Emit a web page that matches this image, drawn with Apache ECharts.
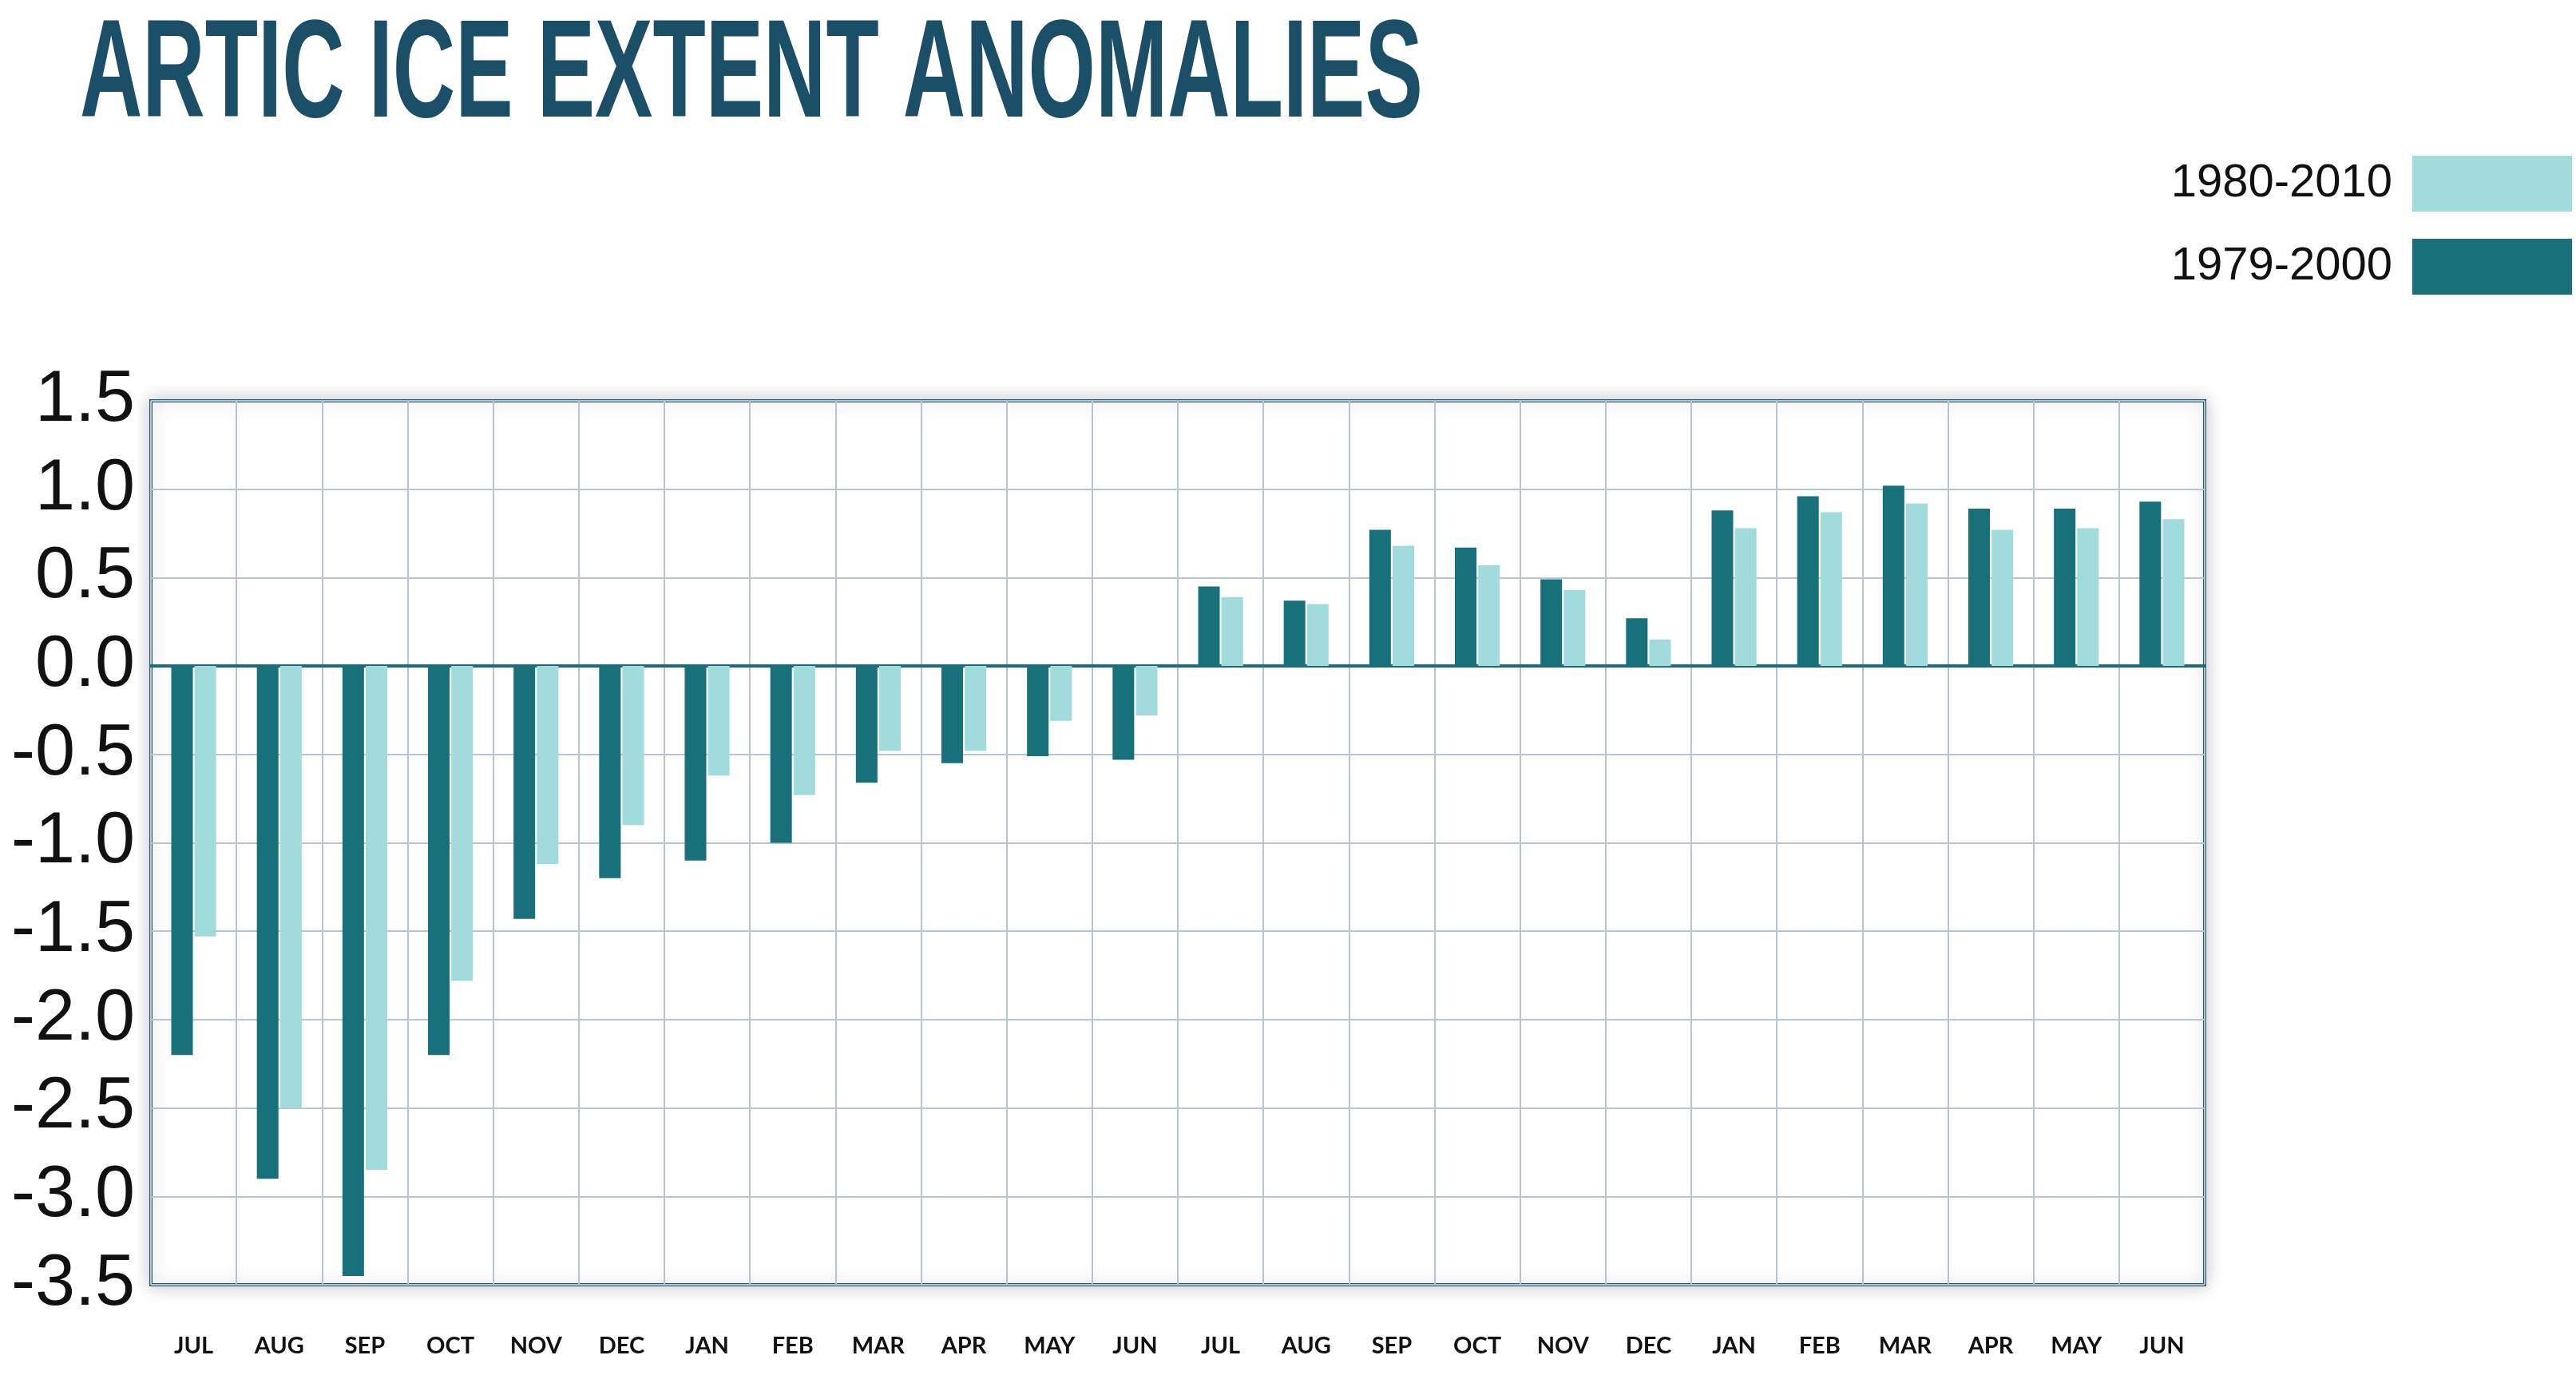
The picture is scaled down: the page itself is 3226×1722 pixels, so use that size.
<!DOCTYPE html>
<html><head><meta charset="utf-8">
<script src="https://cdn.jsdelivr.net/npm/echarts@6/dist/echarts.min.js"></script>
<style>html,body{margin:0;background:#fff}#c{width:3226px;height:1722px}</style>
</head><body><div id="c"></div>
<script>
const months = ['JUL','AUG','SEP','OCT','NOV','DEC','JAN','FEB','MAR','APR','MAY','JUN','JUL','AUG','SEP','OCT','NOV','DEC','JAN','FEB','MAR','APR','MAY','JUN'];
const base7900 = [-2.2,-2.9,-3.45,-2.2,-1.43,-1.2,-1.1,-1.0,-0.66,-0.55,-0.51,-0.53,0.45,0.37,0.77,0.67,0.49,0.27,0.88,0.96,1.02,0.89,0.89,0.93];
const base8010 = [-1.53,-2.5,-2.85,-1.78,-1.12,-0.9,-0.62,-0.73,-0.48,-0.48,-0.31,-0.28,0.39,0.35,0.68,0.57,0.43,0.15,0.78,0.87,0.92,0.77,0.78,0.83];

const chart = echarts.init(document.getElementById('c'));
const font = '"Liberation Sans", sans-serif';
chart.setOption({
  graphic: [{ type: 'text', left: 100, top: 10, scaleX: 0.62,
    style: { text: 'ARTIC ICE EXTENT ANOMALIES', font: 'bold 175px "Liberation Sans"', fill: '#1b4f68' } }],
  legend: { data: ['1980-2010','1979-2000'], orient: 'vertical', right: 0, top: 190,
    align: 'right', itemWidth: 200, itemHeight: 70, itemGap: 34, icon: 'rect',
    textStyle: { fontFamily: font, fontSize: 58, color: '#111', padding: [0, 20, 0, 0] } },
  grid: { left: 189, right: 465, top: 502, bottom: 113, show: true, borderColor: '#1d5a6e', borderWidth: 4,
    backgroundColor: '#fff', shadowColor: 'rgba(40,40,80,0.25)', shadowBlur: 20 },
  xAxis: { type: 'category', data: months,
    axisLine: { onZero: true, lineStyle: { color: '#1c6b78', width: 4 } },
    axisTick: { show: false },
    splitLine: { show: true, interval: 0, lineStyle: { color: '#b8c4cf', width: 2 } },
    axisLabel: { interval: 0, fontFamily: '"Lato", sans-serif', fontWeight: 'bold', fontSize: 29, color: '#111', margin: 62 } },
  yAxis: { type: 'value', min: -3.5, max: 1.5, interval: 0.5,
    axisLine: { show: false }, axisTick: { show: false },
    splitLine: { lineStyle: { color: '#b8c4cf', width: 2 } },
    axisLabel: { formatter: v => v.toFixed(1), fontFamily: font, fontSize: 90, color: '#111', margin: 20 } },
  series: [
    { name: '1979-2000', type: 'bar', data: base7900, itemStyle: { color: '#17707a' },
      barWidth: 27, barGap: '8%' },
    { name: '1980-2010', type: 'bar', data: base8010, itemStyle: { color: '#a1dbdc' },
      barWidth: 27 }
  ]
});
</script></body></html>
